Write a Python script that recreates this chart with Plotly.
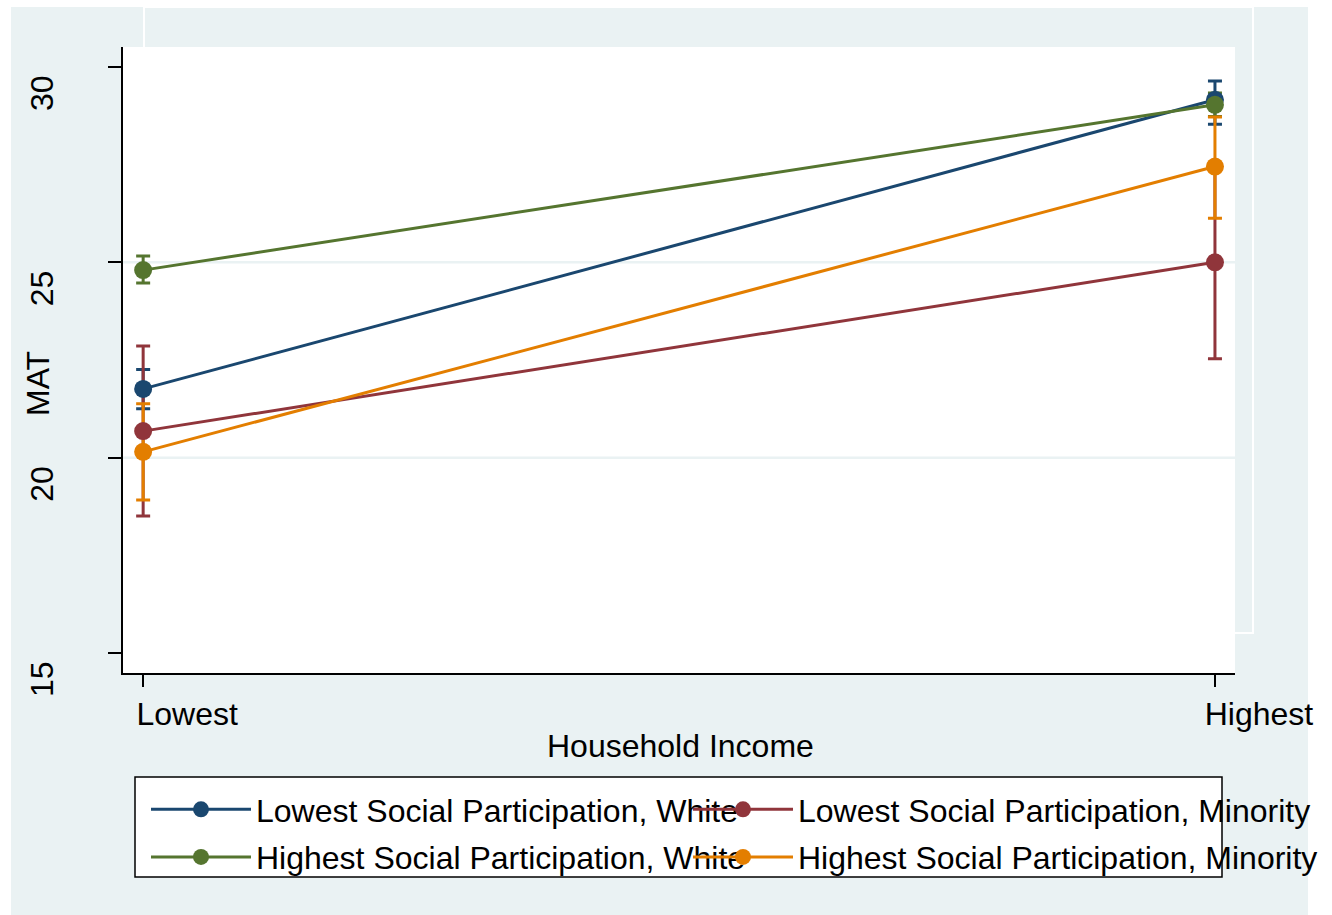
import plotly.graph_objects as go

# Household income categories on the x axis
income_levels = ["Lowest", "Highest"]
income_pos = [0, 1]

# Groups: Lowest SP White, Lowest SP Minority, Highest SP White, Highest SP Minority
groups = [
    "Lowest Social Participation, White",
    "Lowest Social Participation, Minority",
    "Highest Social Participation, White",
    "Highest Social Participation, Minority",
]
colors = ["#1A476F", "#90353B", "#55752F", "#E37E00"]
legend_ids = ["legend", "legend2", "legend", "legend2"]

# Predicted MAT means at lowest / highest income
mat_lw = [21.76, 29.16]
mat_lm = [20.68, 25.00]
mat_hw = [24.80, 29.03]
mat_hm = [20.15, 27.45]

# 95% confidence limits
ci_low_lw = [21.25, 28.53]
ci_up_lw = [22.26, 29.64]
ci_low_lm = [18.51, 22.53]
ci_up_lm = [22.86, 27.46]
ci_low_hw = [24.47, 28.73]
ci_up_hw = [25.16, 29.33]
ci_low_hm = [18.92, 26.13]
ci_up_hm = [21.38, 28.72]

y_ticks = [15, 20, 25, 30]
grid_vals = [20, 25]

means = [mat_lw, mat_lm, mat_hw, mat_hm]
lows = [ci_low_lw, ci_low_lm, ci_low_hw, ci_low_hm]
ups = [ci_up_lw, ci_up_lm, ci_up_hw, ci_up_hm]

FONT = "Liberation Sans, Arial, sans-serif"
FS = 32
BG = "#EAF2F3"
W, H = 1332, 915
ML, MR, MT, MB = 123, 97, 47, 242
PW, PH = W - ML - MR, H - MT - MB


def px_x(p):
    return (p - ML) / PW


def px_y(p):
    return (H - MB - p) / PH


fig = go.Figure()

# Confidence interval caps (drawn beneath all lines and markers)
for m, lo, up, c in zip(means, lows, ups, colors):
    fig.add_trace(go.Scatter(
        x=income_pos, y=m, mode="markers",
        marker=dict(size=1, opacity=0),
        error_y=dict(type="data", symmetric=False,
                     array=[u - v for u, v in zip(up, m)],
                     arrayminus=[v - l for v, l in zip(m, lo)],
                     color=c, thickness=3, width=7),
        showlegend=False, hoverinfo="skip",
    ))

# Connected means
for i, (name, m, c, lg) in enumerate(zip(groups, means, colors, legend_ids)):
    fig.add_trace(go.Scatter(
        x=income_pos, y=m, mode="lines+markers", name=name,
        legend=lg, legendgroup=f"g{i}",
        line=dict(color=c, width=3),
        marker=dict(color=c, size=18, symbol="circle", line=dict(width=0)),
    ))

shapes = [
    # light outer background
    dict(type="rect", xref="paper", yref="paper", layer="below",
         x0=px_x(11), x1=px_x(1308), y0=px_y(7), y1=px_y(915),
         fillcolor=BG, line=dict(width=0)),
    # inner white frame
    dict(type="rect", xref="paper", yref="paper", layer="below",
         x0=px_x(144), x1=px_x(1253), y0=px_y(7), y1=px_y(633),
         fillcolor="rgba(0,0,0,0)", line=dict(color="white", width=2)),
    # white plot region
    dict(type="rect", xref="paper", yref="paper", layer="below",
         x0=0, x1=1, y0=0, y1=1,
         fillcolor="white", line=dict(width=0)),
    # legend box
    dict(type="rect", xref="paper", yref="paper", layer="below",
         x0=px_x(135), x1=px_x(1222), y0=px_y(777), y1=px_y(877),
         fillcolor="white", line=dict(color="black", width=1.5)),
]
for g in grid_vals:
    shapes.append(dict(type="line", xref="paper", yref="y", layer="below",
                       x0=0, x1=1, y0=g, y1=g,
                       line=dict(color=BG, width=2.5)))

annotations = [
    dict(text="MAT", xref="paper", yref="paper", x=px_x(38), y=px_y(384),
         showarrow=False, textangle=-90, font=dict(size=FS, color="black", family=FONT),
         xanchor="center", yanchor="middle"),
    dict(text="Household Income", xref="paper", yref="paper", x=px_x(680), y=px_y(746),
         showarrow=False, font=dict(size=FS, color="black", family=FONT),
         xanchor="center", yanchor="middle"),
]

legend_style = dict(orientation="v", xanchor="left", yanchor="top",
                    itemwidth=100, tracegroupgap=3, traceorder="grouped",
                    bgcolor="rgba(0,0,0,0)", borderwidth=0,
                    font=dict(size=FS, family=FONT, color="black"))

fig.update_layout(
    width=W, height=H,
    margin=dict(l=ML, r=MR, t=MT, b=MB, autoexpand=False),
    paper_bgcolor="white", plot_bgcolor="white",
    font=dict(family=FONT, size=FS, color="black"),
    shapes=shapes, annotations=annotations,
    showlegend=True,
    legend=dict(x=px_x(146), y=px_y(782), **legend_style),
    legend2=dict(x=px_x(688), y=px_y(782), **legend_style),
    xaxis=dict(range=[-0.0188, 1.0187], tickvals=income_pos, ticktext=income_levels,
               showgrid=False, zeroline=False, showline=True, linecolor="black", linewidth=1.5,
               ticks="outside", ticklen=12, tickwidth=1.5, tickcolor="black",
               ticklabelshift=44, tickfont=dict(size=FS)),
    yaxis=dict(range=[14.49, 30.51], tickvals=y_ticks,
               showgrid=False, zeroline=False, showline=True, linecolor="black", linewidth=1.5,
               ticks="outside", ticklen=13, tickwidth=1.5, tickcolor="black",
               tickangle=-90, ticklabelshift=31, ticklabelstandoff=42,
               tickfont=dict(size=FS)),
)

fig.write_html("out.html")
